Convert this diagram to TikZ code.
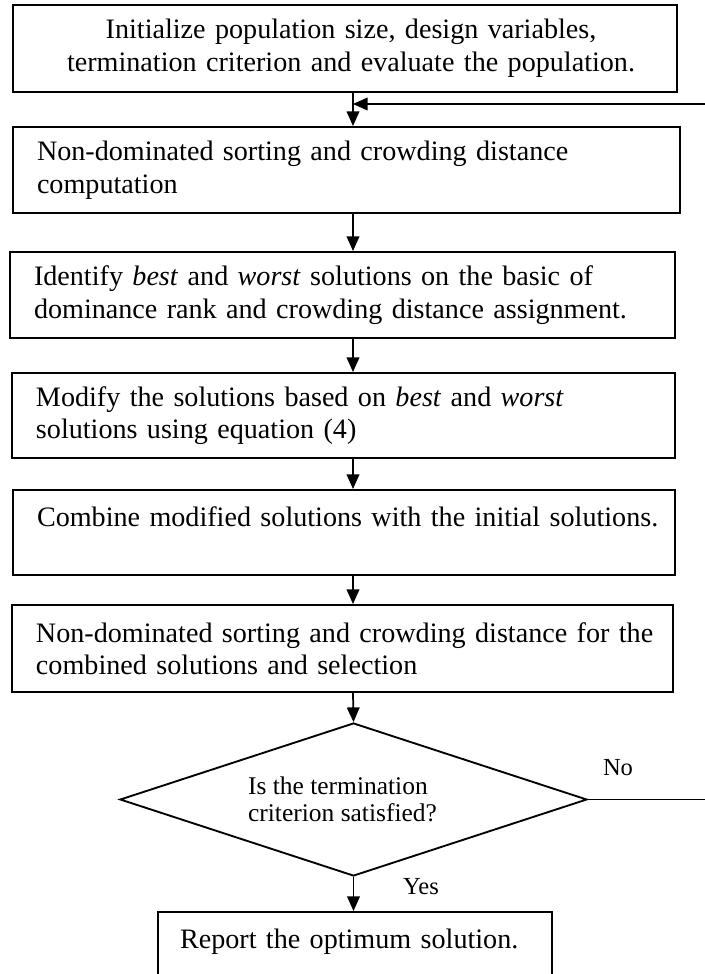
\documentclass[tikz,border=0pt]{standalone}
\usepackage{fontspec}
\setmainfont{Liberation Serif}
\usetikzlibrary{arrows.meta,shapes.geometric}
\newcommand\bxfont{\fontsize{21.1pt}{24.4pt}\selectfont}
\newcommand\dmfont{\fontsize{19.1pt}{20.6pt}\selectfont}
\newcommand\lbfont{\fontsize{18.4pt}{20pt}\selectfont}
\begin{document}
\begin{tikzpicture}[x=0.75pt,y=-0.75pt,
  box/.style={draw, line width=1.5pt, inner sep=0pt, font=\bxfont, align=left},
  decision/.style={draw, shape=diamond, aspect=3.05, line width=1.4pt, inner sep=0pt, font=\dmfont, align=left},
  lbl/.style={inner sep=0pt, font=\lbfont},
  arr/.style={line width=1.3pt, -{Triangle[length=11pt,width=9.5pt]}}]
\useasboundingbox (0,0) rectangle (705,974);

\node[box, align=center, text width=462pt, minimum width=498pt, minimum height=65.25pt] (b1) at (345,48.5)
  {\hspace*{9pt}Initialize population size, design variables,\\ \hspace*{9pt}termination criterion and evaluate the population.};
\node[box, text width=464.25pt, minimum width=500.25pt, minimum height=64.5pt] (b2) at (346.5,170)
  {\mbox{Non-dominated sorting and crowding distance}\\ computation};
\node[box, text width=462.75pt, minimum width=498.75pt, minimum height=64.5pt] (b3) at (342.5,295)
  {\mbox{Identify \textit{best} and \textit{worst} solutions on the basic of}\\ \mbox{dominance rank and crowding distance assignment.}};
\node[box, text width=461.25pt, minimum width=497.25pt, minimum height=63.75pt] (b4) at (343.5,415.5)
  {\mbox{Modify the solutions based on \textit{best} and \textit{worst}}\\ \mbox{solutions using equation (4)}};
\node[box, text width=460.5pt, minimum width=496.5pt, minimum height=63.75pt] (b5) at (344,532.5)
  {\mbox{Combine modified solutions with the initial solutions.}\\ \mbox{}};
\node[box, text width=459.75pt, minimum width=495.75pt, minimum height=65.25pt] (b6) at (342.5,648.5)
  {\mbox{Non-dominated sorting and crowding distance for the}\\ \mbox{combined solutions and selection}};
\node[decision, minimum width=350.25pt, minimum height=114.75pt] (dia) at (353.5,799.5)
  {Is the termination\\ criterion satisfied?\hspace*{16.5pt}};
\node[box, text width=262.5pt, minimum width=295.5pt, minimum height=64.5pt] (rep) at (355,955)
  {\mbox{Report the optimum solution.}\\ \mbox{}};

\node[lbl] (no) at (618,768) {No};
\node[lbl] (yes) at (421,887) {Yes};

\coordinate (col) at (353,0);
\coordinate (fb) at (353,104);
\coordinate (loopx) at (730,0);

\draw[arr] (b1.south -| col) -- (b2.north -| col);
\draw[arr] (b2.south -| col) -- (b3.north -| col);
\draw[arr] (b3.south -| col) -- (b4.north -| col);
\draw[arr] (b4.south -| col) -- (b5.north -| col);
\draw[arr] (b5.south -| col) -- (b6.north -| col);
\draw[arr] (b6.south -| col) -- (dia.north);
\draw[arr] (dia.south) -- (dia.south |- rep.north);
\draw[arr] (dia.east) -- (dia.east -| loopx) |- (fb);
\end{tikzpicture}
\end{document}
